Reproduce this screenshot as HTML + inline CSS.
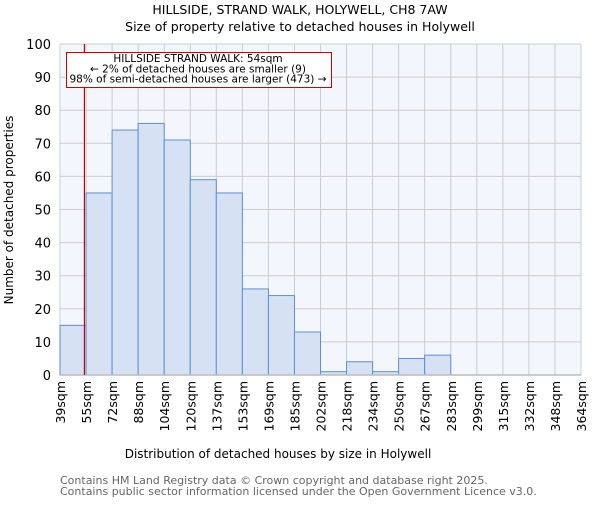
<!DOCTYPE html>
<html><head><meta charset="utf-8"><style>
body{margin:0;background:#fff}
svg text{font-family:"DejaVu Sans","Liberation Sans",sans-serif}
</style></head><body>
<svg id="c" width="600" height="500">
<text x="300" y="14" text-anchor="middle" font-size="12.5">HILLSIDE, STRAND WALK, HOLYWELL, CH8 7AW</text>
<text x="300" y="31" text-anchor="middle" font-size="12.5">Size of property relative to detached houses in Holywell</text>
<rect x="60" y="44" width="521" height="331" fill="#f3f6fd"/>
<g id="grid"></g><g id="bars"></g><g id="axes"></g>
<text x="278" y="458" text-anchor="middle" font-size="12">Distribution of detached houses by size in Holywell</text>
<text transform="translate(13,210) rotate(-90)" text-anchor="middle" font-size="12">Number of detached properties</text>
<text x="60" y="484" font-size="11" fill="#666">Contains HM Land Registry data © Crown copyright and database right 2025.</text>
<text x="60" y="495" font-size="11" fill="#666">Contains public sector information licensed under the Open Government Licence v3.0.</text>
</svg>
<script>
const categories=["39sqm","55sqm","72sqm","88sqm","104sqm","120sqm","137sqm","153sqm","169sqm","185sqm","202sqm","218sqm","234sqm","250sqm","267sqm","283sqm","299sqm","315sqm","332sqm","348sqm","364sqm"];
const counts=[15,55,74,76,71,59,55,26,24,13,1,4,1,5,6,0,0,0,0,0];
const yTicks=[0,10,20,30,40,50,60,70,80,90,100];
const markerBin=0.9375;
const NS="http://www.w3.org/2000/svg";
const X0=60,X1=581,Y0=375,Y1=44,n=counts.length;
const xs=i=>X0+i*(X1-X0)/n;
const ys=v=>Y0-(v/100)*(Y0-Y1);
function mk(t,a,p){const e=document.createElementNS(NS,t);for(const k in a)e.setAttribute(k,a[k]);p.appendChild(e);return e;}
const grid=document.getElementById('grid'),bars=document.getElementById('bars'),axes=document.getElementById('axes');
yTicks.forEach(v=>{
 const l=mk('line',{x1:X0,x2:X1,y1:ys(v),y2:ys(v),stroke:'#cccccc'},grid);
 
 
 const t=mk('text',{x:X0-9,y:ys(v)+5,'text-anchor':'end','font-size':13},axes);
 t.textContent=v;
 
 
});
categories.forEach((c,i)=>{
 const l=mk('line',{x1:xs(i),x2:xs(i),y1:Y1,y2:Y0,stroke:'#cccccc'},grid);
 
 
 const t=mk('text',{transform:`translate(${xs(i)+5},381) rotate(-90)`,'text-anchor':'end','font-size':12.5},axes);
 t.textContent=c;
 
 
});
counts.forEach((v,i)=>{
 if(v<=0)return;
 const r=mk('rect',{x:xs(i),y:ys(v),width:xs(i+1)-xs(i),height:Y0-ys(v),fill:'#d6e2f4',stroke:'#5b8fd6','stroke-width':1},bars);
 
 
});
const ax=mk('line',{x1:X0,x2:X1,y1:Y0,y2:Y0,stroke:'#bbbbbb','stroke-width':1.5},axes);


const mx=xs(markerBin);
const ml=mk('line',{x1:mx,x2:mx,y1:Y1,y2:Y0,stroke:'#cc0000','stroke-width':1.2},axes);


const g=mk('g',{},axes);


mk('rect',{x:66.5,y:52.5,width:265,height:35,fill:'#fff',stroke:'#cc0000'},g);
["HILLSIDE STRAND WALK: 54sqm","← 2% of detached houses are smaller (9)","98% of semi-detached houses are larger (473) →"].forEach((s,k)=>{
 const t=mk('text',{x:198,y:62+k*10.3,'text-anchor':'middle','font-size':10.5},g);
 t.textContent=s;
 
 
});
</script>
</body></html>
